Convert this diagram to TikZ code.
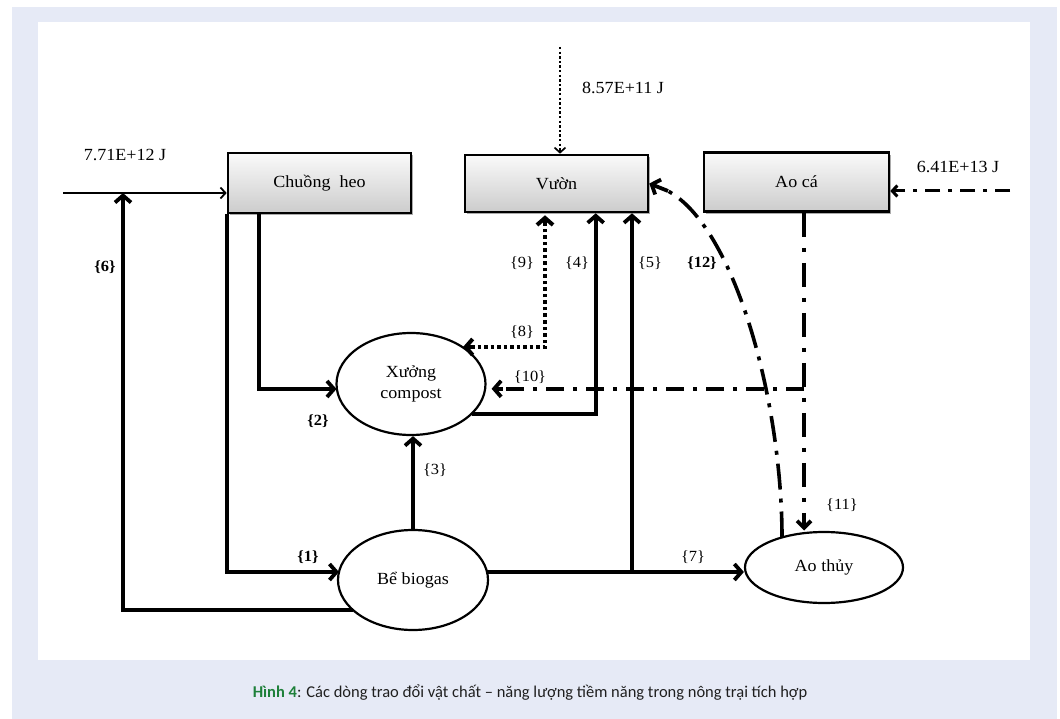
\documentclass[tikz,border=0pt]{standalone}
\usepackage{fontspec}
\setmainfont{Liberation Serif}[FakeStretch=1.06]
\newfontfamily\capfont{Carlito}
\usetikzlibrary{arrows.meta,shapes.geometric,shadows,calc}
\definecolor{panelblue}{RGB}{230,234,246}
\definecolor{capgreen}{RGB}{30,128,58}
\begin{document}
\begin{tikzpicture}[x=1pt,y=-1pt,
  box/.style={rectangle,draw=black,line width=2.6pt,inner sep=0pt,
    top color=gray!4,bottom color=gray!40,
    drop shadow={shadow xshift=2pt,shadow yshift=-2.5pt,fill=black!60,opacity=0.55},
    font=\fontsize{17}{19}\selectfont},
  ell/.style={ellipse,draw=black,line width=2.2pt,fill=white,inner sep=0pt,
    align=center,font=\fontsize{17}{21}\selectfont},
  flow/.style={line width=3.8pt,-{Straight Barb[length=7pt,width=16pt]}},
  thinflow/.style={line width=1.8pt,-{Straight Barb[length=5pt,width=11pt]}},
  dotthin/.style={line width=2.2pt,dash pattern=on 2.4pt off 2.2pt,-{Straight Barb[length=5pt,width=11pt,line width=1.7pt]}},
  dotthick/.style={line width=4pt,dash pattern=on 3.5pt off 3pt},
  dashdotA/.style={line width=3.8pt,dash pattern=on 18pt off 9pt on 4pt off 9pt},
  dashdotB/.style={line width=3.8pt,dash pattern=on 24pt off 11pt on 4pt off 11pt},
  dashdotC/.style={line width=3.6pt,dash pattern=on 26pt off 9pt on 4pt off 9pt},
  dashdotD/.style={line width=3pt,dash pattern=on 15pt off 8pt on 4pt off 8pt},
  lbl/.style={font=\fontsize{15.5}{17}\selectfont,inner sep=0pt},
  lblb/.style={font=\bfseries\fontsize{15.5}{17}\selectfont,inner sep=0pt},
  val/.style={font=\fontsize{17}{19}\selectfont,inner sep=0pt}
]
\useasboundingbox (0,0) rectangle (1060,719);
\fill[panelblue] (12,7) rectangle (1057,719);
\fill[white] (38,22) rectangle (1030,660);

% nodes
\node[box,minimum width=183pt,minimum height=60pt] (chuong) at (319.5,183) {Chuồng\ \ heo};
\node[box,minimum width=183pt,minimum height=57pt] (vuon) at (556.5,183.5) {Vườn};
\node[box,minimum width=185pt,minimum height=59pt] (aoca) at (796.5,182) {Ao cá};
\node[ell,minimum width=149pt,minimum height=102pt] (compost) at (411,384) {Xưởng\\compost};
\node[ell,minimum width=150pt,minimum height=100pt] (biogas) at (413,580) {Bể biogas};
\node[ell,minimum width=158pt,minimum height=71pt] (aothuy) at (824,567.5) {Ao thủy};

% coordinates
\coordinate (in1) at (63,193);
\coordinate (j6) at (123,193);
\coordinate (in2) at (560,47);
\coordinate (in3) at (1010,191);
\coordinate (j5) at (632,572);
\coordinate (j89) at (545,345);
\coordinate (j11) at ($(aoca.south)+(7.5,0)$);
\coordinate (j10) at ($(aoca.south)+(7.5,176)$);

% inputs
\draw[thinflow] (in1) -- (chuong.west |- in1);
\draw[dotthin] (in2) -- (in2 |- vuon.north);
\draw[dashdotD] (in3) -- ($(aoca.east |- in3)+(6,0)$);
\draw[line width=3pt,-{Straight Barb[length=5pt,width=11pt]}] ($(aoca.east |- in3)+(8,0)$) -- (aoca.east |- in3);

% solid flows
\draw[flow] (chuong.south west) |- ($(biogas.center)+(-74,-8)$);
\draw[flow] ($(chuong.south west)+(32,0)$) |- ($(compost.center)+(-74.5,5)$);
\draw[flow] ($(biogas.center)+(-60,30)$) -| (j6);
\draw[flow] (biogas.north) -- (biogas.north |- compost.south);
\draw[flow] ($(compost.center)+(61,30)$) -| ($(vuon.south west)+(132,0)$);
\draw[line width=3.8pt] ($(biogas.center)+(74,-8)$) -- (j5);
\draw[flow] (j5) -- (aothuy.west |- j5);
\draw[flow] (j5) -- (j5 |- vuon.south);

% dotted {8} {9}
\draw[dotthick] ($(compost.center)+(60,-37)$) -| ($(j89 |- vuon.south)+(0,10)$);
\draw[line width=4pt,-{Straight Barb[length=7pt,width=16pt]}] ($(compost.center)+(60,-37)$) -- ($(compost.center)+(52,-37)$);
\draw[line width=4pt,-{Straight Barb[length=7pt,width=16pt]}] ($(j89 |- vuon.south)+(0,10)$) -- ($(j89 |- vuon.south)+(0,2)$);

% dash-dot flows
\draw[dashdotB] (j11) -- ($(aothuy.center)+(-20,-44)$);
\draw[line width=3.8pt,-{Straight Barb[length=7pt,width=14pt]}] ($(aothuy.center)+(-20,-46)$) -- ($(aothuy.center)+(-20,-37)$);
\draw[dashdotA] (j10) -- ($(compost.east |- j10)+(14,0)$);
\draw[line width=3.8pt,-{Straight Barb[length=7pt,width=16pt]}] ($(compost.east |- j10)+(16,0)$) -- ($(compost.east |- j10)+(5,0)$);
\draw[dashdotC] ($(aothuy.center)+(-42,-30)$) .. controls (782,400) and (734,224) .. (666,190);
\draw[line width=3.8pt,-{Straight Barb[length=7pt,width=16pt]}] (668,191) -- (vuon.east);

% value labels
\node[val] (v1) at (125,155) {7.71E+12 J};
\node[val] (v2) at (623,88) {8.57E+11 J};
\node[val] (v3) at (958,167) {6.41E+13 J};

% flow labels
\node[lblb] (l6) at (105,267) {\{6\}};
\node[lblb] (l2) at (318,421) {\{2\}};
\node[lblb] (l1) at (308,557) {\{1\}};
\node[lbl] (l3) at (435,470) {\{3\}};
\node[lbl] (l9) at (522,263) {\{9\}};
\node[lbl] (l4) at (577,263) {\{4\}};
\node[lbl] (l5) at (650,263) {\{5\}};
\node[lblb] (l12) at (702,263) {\{12\}};
\node[lbl] (l8) at (522,332) {\{8\}};
\node[lbl] (l10) at (530,377) {\{10\}};
\node[lbl] (l7) at (693,557) {\{7\}};
\node[lbl] (l11) at (842,505) {\{11\}};

% caption
\node[font=\capfont\fontsize{16.5}{19}\selectfont,text=black!88] (cap) at (530,693)
  {\textcolor{capgreen}{\bfseries Hình 4}: Các dòng trao đổi vật chất – năng lượng tiềm năng trong nông trại tích hợp};
\end{tikzpicture}
\end{document}
